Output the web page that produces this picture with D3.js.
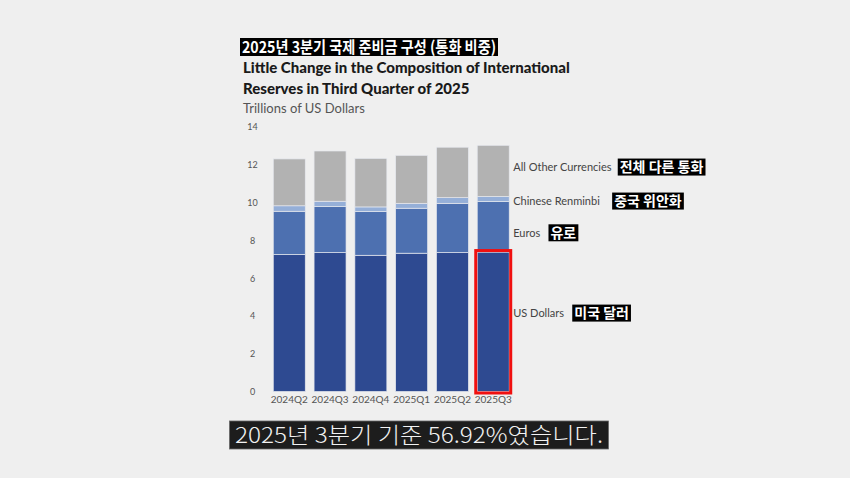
<!DOCTYPE html>
<html>
  <head>
    <meta charset="utf-8">
    <title>International reserves composition</title>
    <script src="https://cdn.jsdelivr.net/npm/d3@7"></script>
    <style>
      body { margin: 0; background: #efefef; }
      #chart { display: block; }
      .tick text { font-family: Lato, sans-serif; fill: #555; }
      .seriesLabel { font-family: Lato, sans-serif; font-size: 11px; fill: #444; }
      .koLabel { font-family: "Noto Sans CJK KR", sans-serif; font-weight: 700; font-size: 14px; fill: #fff; }
    </style>
  </head>

  <body>
    <svg id="chart" width="850" height="478"></svg>

    <script>
      // data (trillions of US dollars)
      quarters = ["2024Q2", "2024Q3", "2024Q4", "2025Q1", "2025Q2", "2025Q3"];
      usDollars = [7.25, 7.35, 7.21, 7.32, 7.35, 7.38];
      euros = [2.29, 2.44, 2.31, 2.38, 2.61, 2.67];
      renminbi = [0.29, 0.28, 0.25, 0.26, 0.30, 0.27];
      otherCurrencies = [2.48, 2.66, 2.57, 2.54, 2.67, 2.71];
      yTicks = [0, 2, 4, 6, 8, 10, 12, 14];

      seriesNames = ["US Dollars", "Euros", "Chinese Renminbi", "All Other Currencies"];
      seriesKorean = ["미국 달러", "유로", "중국 위안화", "전체 다른 통화"];
      seriesColors = ["#2e4a91", "#4d70b0", "#95afd8", "#b2b2b2"];
      // where each label sits, in chart units
      labelAt = [4.15, 8.4, 10.08, 11.88];
      labelGap = [8, 8, 12, 6];

      titleKo = "2025년 3분기 국제 준비금 구성 (통화 비중)";
      titleEn = ["Little Change in the Composition of International", "Reserves in Third Quarter of 2025"];
      unitLabel = "Trillions of US Dollars";
      caption = "2025년 3분기 기준 56.92%였습니다.";

      rows = quarters.map((q, i) => ({
        quarter: q,
        usd: usDollars[i],
        eur: euros[i],
        cny: renminbi[i],
        oth: otherCurrencies[i]
      }));
      keys = ["usd", "eur", "cny", "oth"];

      chart = d3.select("#chart");
      chart.append("rect")
        .attr("width", 850).attr("height", 478)
        .attr("fill", "#efefef");

      x = d3.scaleBand()
        .domain(quarters)
        .range([269.2, 513.3])
        .paddingInner(0.216)
        .paddingOuter(0.1);
      y = d3.scaleLinear()
        .domain([0, 14])
        .range([391.5, 127]);

      // axes
      yAxis = d3.axisLeft(y).tickValues(yTicks).tickSize(0).tickPadding(0);
      chart.append("g")
        .attr("transform", "translate(252.5, 0)")
        .call(yAxis)
        .call(g => g.select(".domain").remove())
        .call(g => g.selectAll("text").attr("text-anchor", "middle").attr("font-size", 9));

      xAxis = d3.axisBottom(x).tickSize(0).tickPadding(4);
      chart.append("g")
        .attr("transform", "translate(0, 391.5)")
        .call(xAxis)
        .call(g => g.select(".domain").remove())
        .call(g => g.selectAll("text").attr("font-size", 10).attr("fill", "#444"));

      // bars
      stacked = d3.stack().keys(keys)(rows);
      chart.append("g")
        .selectAll("g")
        .data(stacked)
        .join("g")
          .attr("fill", (d, i) => seriesColors[i])
        .selectAll("rect")
        .data(d => d)
        .join("rect")
          .attr("x", d => x(d.data.quarter))
          .attr("width", x.bandwidth())
          .attr("y", d => y(d[1]))
          .attr("height", d => y(d[0]) - y(d[1]))
          .attr("stroke", "#e6e8ee")
          .attr("stroke-width", 0.7);

      // highlight of the latest US dollar bar
      last = quarters[quarters.length - 1];
      chart.append("rect")
        .attr("x", x(last) - 1.5)
        .attr("y", y(usDollars[usDollars.length - 1]) - 1.5)
        .attr("width", x.bandwidth() + 3)
        .attr("height", y(0) - y(usDollars[usDollars.length - 1]) + 3)
        .attr("fill", "none")
        .attr("stroke", "#f01010")
        .attr("stroke-width", 3);

      // series labels with Korean captions
      labelX = x(last) + x.bandwidth() + 4;
      seriesNames.forEach((name, i) => {
        let t = chart.append("text")
          .attr("class", "seriesLabel")
          .attr("x", labelX)
          .attr("y", y(labelAt[i]))
          .attr("dy", "0.35em")
          .text(name);
        let b = t.node().getBBox();
        let g = chart.append("g");
        let r = g.append("rect").attr("fill", "#000");
        let k = g.append("text")
          .attr("class", "koLabel")
          .attr("x", b.x + b.width + labelGap[i] + 2)
          .attr("y", y(labelAt[i]))
          .attr("dy", "0.36em")
          .text(seriesKorean[i]);
        let kb = k.node().getBBox();
        r.attr("x", kb.x - 2).attr("y", y(labelAt[i]) - 8.5)
          .attr("width", kb.width + 4).attr("height", 17);
      });

      // titles
      titleBox = chart.append("rect").attr("fill", "#000");
      titleText = chart.append("text")
        .attr("x", 242)
        .attr("y", 47)
        .attr("dy", "0.36em")
        .attr("fill", "#fff")
        .attr("font-family", "'Noto Sans CJK KR', sans-serif")
        .attr("font-weight", 700)
        .attr("font-size", 16)
        .attr("textLength", 254)
        .attr("lengthAdjust", "spacingAndGlyphs")
        .text(titleKo);
      titleBox.attr("x", 240).attr("y", 38).attr("width", 258).attr("height", 18);

      chart.append("g")
        .selectAll("text")
        .data(titleEn)
        .join("text")
          .attr("x", 243)
          .attr("y", (d, i) => 67.5 + i * 21)
          .attr("dy", "0.35em")
          .attr("fill", "#1a1a1a")
          .attr("font-family", "Lato, sans-serif")
          .attr("font-weight", 900)
          .attr("font-size", 15)
          .text(d => d);

      chart.append("text")
        .attr("x", 243)
        .attr("y", 108)
        .attr("dy", "0.35em")
        .attr("fill", "#555")
        .attr("font-family", "Lato, sans-serif")
        .attr("font-size", 13)
        .text(unitLabel);

      // subtitle caption
      chart.append("rect")
        .attr("x", 229.5).attr("y", 421)
        .attr("width", 379).attr("height", 28)
        .attr("fill", "#1d1d1d")
        .attr("stroke", "#666")
        .attr("stroke-width", 0.8);
      chart.append("text")
        .attr("x", 419)
        .attr("y", 435)
        .attr("dy", "0.36em")
        .attr("text-anchor", "middle")
        .attr("fill", "#f2f2f2")
        .attr("font-family", "'Noto Sans CJK KR', sans-serif")
        .attr("font-weight", 300)
        .attr("font-size", 22)
        .attr("textLength", 368)
        .attr("lengthAdjust", "spacingAndGlyphs")
        .text(caption);
    </script>
  </body>
</html>
